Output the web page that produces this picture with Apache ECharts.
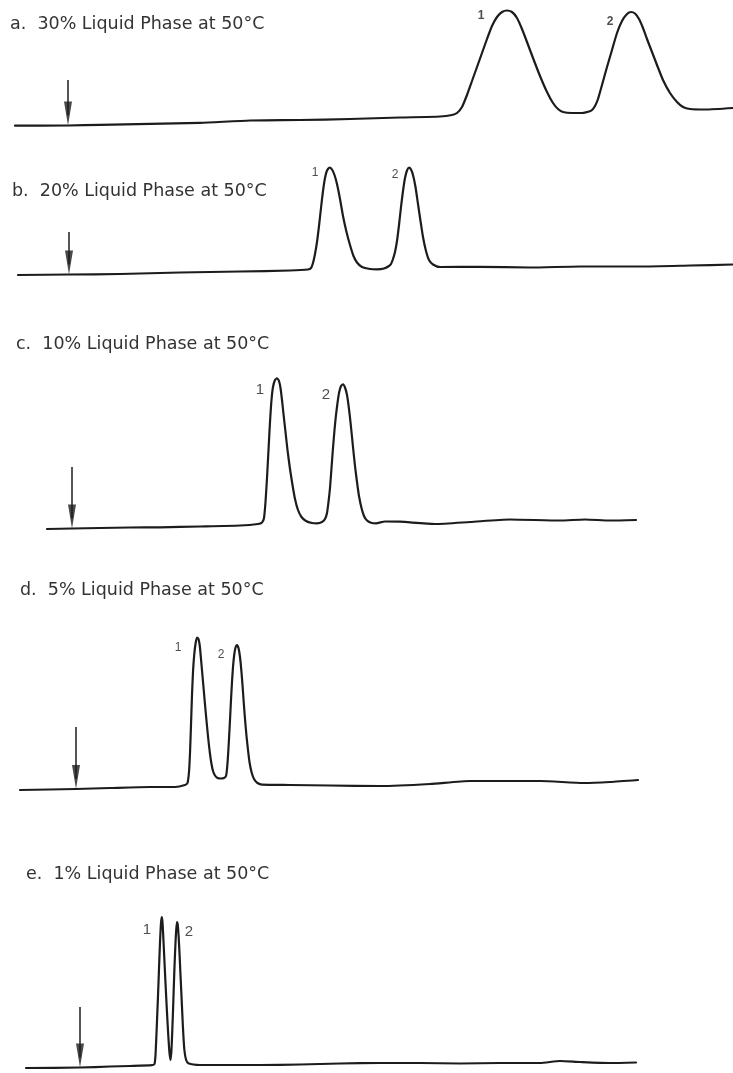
<!DOCTYPE html>
<html><head><meta charset="utf-8">
<script src="https://cdn.jsdelivr.net/npm/echarts@6/dist/echarts.min.js"></script>
<style>html,body{margin:0;padding:0;background:#fff}#c{width:733px;height:1073px}</style>
</head><body><div id="c"></div>
<script>
// ---- Panel titles ----
const panelTitles = [
  'a.  30% Liquid Phase at 50°C',
  'b.  20% Liquid Phase at 50°C',
  'c.  10% Liquid Phase at 50°C',
  'd.  5% Liquid Phase at 50°C',
  'e.  1% Liquid Phase at 50°C'
];

// ---- Traces: retention distance (chart units) and detector signal (chart units) ----
const aTime   = [15,68,100,150,200,250,300,350,400,440,452,457,462,467,472,477,482,487,492,497,502,507,512,517,522,527,533,540,547,553,558,563,572,582,589,592,595,598,602,607,612,617,622,627,631,635,639,643,647,652,657,663,670,677,683,690,705,733];
const aSignal = [4.3,4.5,5.2,6.2,7.2,9.5,10,11,12.5,13.5,15,17,23,35,49,63,77,91,104,113,118,119.5,118,112,101,88,72,54,38,27,21,18,17,17,18.5,20,24,31,45,63,80,97,109,116,118,116.5,111,102,91,78,65,50,37,28,23,21,20.5,22];

const bTime   = [18,69,120,180,240,290,308,311,313,315,317,319,321,323,325,327,329.5,332,334.5,337,340,343,346.5,350,353.5,357,362,370,377,384,389,391,393,395,397,399,401,403,405,407,409,411,413,415.5,418,420.5,423,426,429,433,440,480,530,580,640,690,733];
const bSignal = [5,5.5,6,7.5,8.5,9.5,10.5,12,17,26,38,54,72,89,102,109.5,112.5,110.5,105,96,81,64,48,35,24,17.5,13,11,10.7,11.5,14,16,21,28,39,55,73,89,102,109.5,112.3,110.5,105,93,76,59,43,29,20,15.5,13,13.2,12.5,13.5,13.5,14.5,15.5];

const cTime   = [47,72,100,130,160,200,240,258,262,264,265.5,267,268.5,270,271.5,273,275,277,279,280.5,282,283.5,285.5,287.5,290,292.5,295,298,301.5,306,312,317,322,325,327,328.5,330,331.5,333,334.5,336,337.5,339,341,343,345,347,349,351,353,355,357,359,361.5,364,367,371,376,385,400,435,470,510,560,585,610,636];
const cSignal = [11,11.5,12,12.5,12.7,13.5,14.5,16,17.5,22,38,62,90,118,140,153,160,161.7,159,152,140,126,108,90,71,55,41,30,23,19,17,16.7,18,21,27,38,52,72,92,110,125,137,147,154,155.7,152.5,145,131,113,93,74,58,44,32,24,19.5,17.3,16.7,18.5,18.3,16,18,20.5,19.5,20.5,19.5,20];

const dTime   = [20,76,110,150,175,185,187.5,189,190,191,192,193,194.2,195.5,197,198.5,199.8,201,202.5,204,205.5,207,208.5,210,211.5,213,215,217.5,221,224,226,227,228,229,230,231,232,233,234.2,235.5,237,238.5,240,241.3,242.5,243.7,245,246.5,248,249.5,251.5,254,257.5,262,290,330,380,430,470,540,584,610,638];
const dSignal = [10,11,12,13,13,15,17,28,47,75,105,128,145,156,162.5,161,154,141,124,107,90,74,59,46,36,29,24.5,22,21.5,22,24,31,44,61,80,100,118,133,145,152.5,155,152,143,130,115,98,81,64,50,38,28,21,17,15.3,15,14.5,14,16,19,19,17,18,20];

const eTime   = [26,80,110,130,152,154.5,155.5,156.3,157,157.8,158.6,159.4,160.2,161,161.7,162.4,163.2,164.2,165.2,166.3,167.4,168.5,169.5,170.5,171.4,172.2,173,173.8,174.6,175.4,176.2,177,177.8,178.6,179.5,180.4,181.4,182.4,183.4,184.5,186,188.3,200,220,260,300,340,380,420,460,500,540,560,580,610,636];
const eSignal = [5,5.5,6.5,7,7.8,9,18,35,52,72,93,115,135,150,156,152,138,117,96,74,53,34,20,13,22,40,62,86,109,128,143,151,148,137,120,100,79,57,37,22,13.5,9.7,8,8,8,8.5,9.5,10,10,9.5,10,10,12,11,10,10.5];

// ---- Injection arrows (start marker) ----
const injectionTime = [68, 69, 72, 76, 80];
const arrowTop      = [50, 48, 73, 73, 66];
const arrowBase     = [4.5, 5.5, 11.5, 11, 5.5];

// ---- Peak number labels: [time, signal] ----
const peakLabelText = ['1', '2'];
const peakLabelPos = [
  [[481, 114], [610, 108]],
  [[315, 107], [395, 105]],
  [[260, 150], [326, 145]],
  [[178, 152], [221, 145]],
  [[147, 143], [189, 141]]
];

const traces = [[aTime,aSignal],[bTime,bSignal],[cTime,cSignal],[dTime,dSignal],[eTime,eSignal]];

// layout
const gridBox = [[0,130],[140,140],[320,220],[570,230],[850,223]];
const titlePos = [[10,15],[12,182],[16,335],[20,581],[26,865]];

const ink = '#1c1c1c';
const grids=[], xAxes=[], yAxes=[], series=[], titles=[];
gridBox.forEach((g,i)=>{
  grids.push({left:0, width:733, top:g[0], height:g[1], containLabel:false});
  xAxes.push({type:'value', gridIndex:i, min:0, max:733, show:false});
  yAxes.push({type:'value', gridIndex:i, min:0, max:g[1], show:false});
  titles.push({text:panelTitles[i], left:titlePos[i][0], top:titlePos[i][1], padding:0,
    textStyle:{fontFamily:'DejaVu Sans', fontSize:17.5, fontWeight:'normal', color:'#333'}});
  const [t,s] = traces[i];
  series.push({type:'line', xAxisIndex:i, yAxisIndex:i, data:t.map((x,k)=>[x,s[k]]),
    showSymbol:false, smooth:0.2, lineStyle:{color:ink, width:2.2, join:'round', cap:'round'}, silent:true, animation:false});
  // arrow shaft
  series.push({type:'line', xAxisIndex:i, yAxisIndex:i,
    data:[[injectionTime[i], arrowTop[i]],[injectionTime[i], arrowBase[i]+10]],
    showSymbol:false, lineStyle:{color:ink, width:1.5}, silent:true, animation:false});
  // arrow head
  series.push({type:'scatter', xAxisIndex:i, yAxisIndex:i,
    data:[[injectionTime[i], arrowBase[i]]],
    symbol:'path://M0,0 L8,0 L4,24 Z', symbolSize:[8,24], symbolOffset:[0,-12],
    itemStyle:{color:ink}, silent:true, animation:false});
  // peak labels
  series.push({type:'scatter', xAxisIndex:i, yAxisIndex:i, symbolSize:0,
    data:peakLabelPos[i].map((p,k)=>({value:p, name:peakLabelText[k]})),
    label:{show:true, position:'inside', formatter:'{b}', fontFamily:'Liberation Sans',
      fontSize:(i===2||i===4)?15:12,
      fontWeight:(i===0)?'bold':'normal', color:'#222'},
    silent:true, animation:false});
});

const chart = echarts.init(document.getElementById('c'), null, {renderer:'canvas'});
chart.setOption({backgroundColor:'#fff', animation:false, title:titles, grid:grids, xAxis:xAxes, yAxis:yAxes, series:series});
</script></body></html>
